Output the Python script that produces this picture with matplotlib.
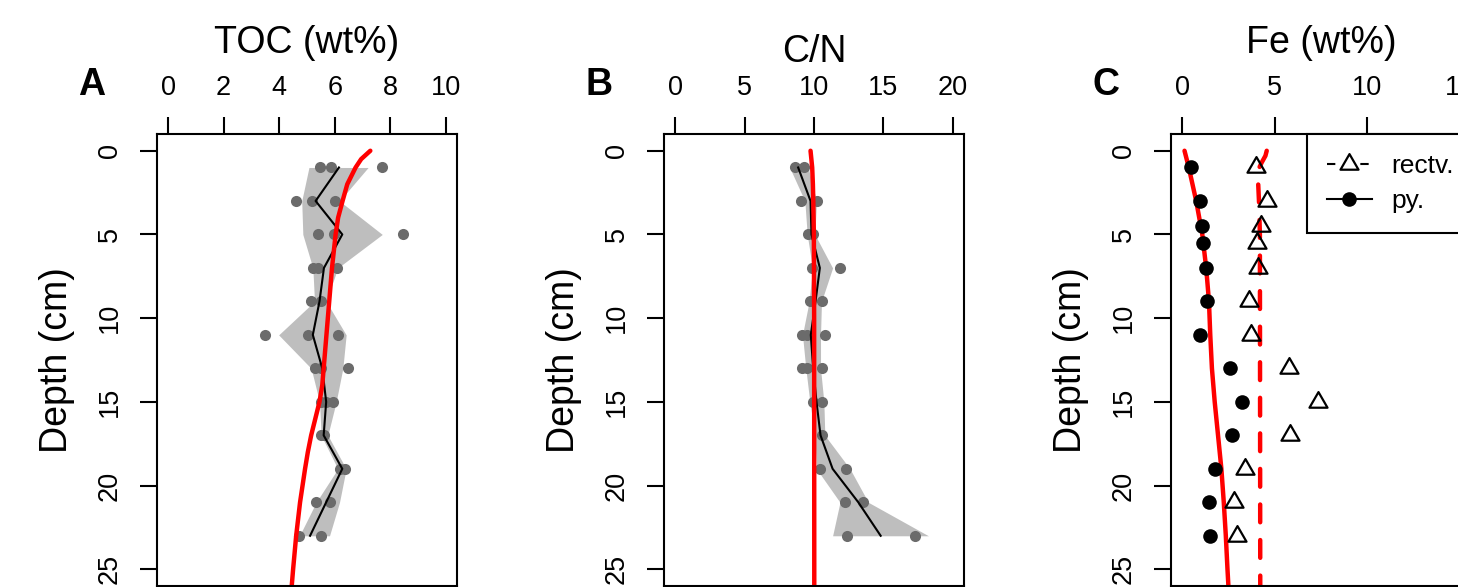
import numpy as np
import matplotlib
matplotlib.use('Agg')
import matplotlib.pyplot as plt
from matplotlib.lines import Line2D
from matplotlib.path import Path

plt.rcParams['font.family'] = ['Liberation Sans', 'DejaVu Sans']

# ---- data ----
depth = [1, 3, 5, 7, 9, 11, 13, 15, 17, 19, 21, 23]

# A: TOC (wt%)
toc_reps = [[5.48, 5.88, 7.71], [4.61, 5.19, 5.99], [5.39, 5.96, 8.44], [5.21, 5.39, 6.08],
            [5.15, 5.51], [3.47, 5.03, 6.11], [5.27, 5.51, 6.47], [5.51, 5.69, 5.93],
            [5.51, 5.60], [6.17, 6.35], [5.31, 5.81], [4.71, 5.51]]
toc_mean = [6.15, 5.31, 6.27, 5.61, 5.45, 5.21, 5.55, 5.69, 5.60, 6.27, 5.69, 5.11]
toc_lo = [5.07, 4.81, 4.85, 5.21, 5.27, 3.98, 5.15, 5.45, 5.51, 6.11, 5.33, 4.73]
toc_hi = [7.20, 6.17, 7.71, 6.11, 5.69, 6.41, 6.29, 6.05, 5.75, 6.41, 6.17, 5.81]
toc_mod_depth = [0, 0.5, 1, 2, 3, 4, 5, 7, 9, 11, 13, 14, 15, 16, 17, 18, 19, 21, 23, 25, 26]
toc_mod = [7.28, 6.95, 6.75, 6.45, 6.28, 6.12, 6.03, 5.90, 5.80, 5.70, 5.60, 5.55, 5.45,
           5.30, 5.15, 5.03, 4.93, 4.75, 4.61, 4.50, 4.45]

# B: C/N
cn_reps = [[8.62, 9.27], [9.03, 10.23], [9.58, 9.94], [9.82, 11.87], [9.70, 10.61],
           [9.10, 9.46, 10.78], [9.10, 9.50, 10.60], [9.94, 10.61], [10.54], [10.42, 12.27],
           [12.23, 13.55], [12.35, 17.28]]
cn_mean = [8.86, 9.75, 9.82, 10.42, 10.11, 9.77, 9.94, 10.18, 10.47, 11.34, 13.19, 14.80]
cn_lo = [8.25, 9.34, 9.51, 9.89, 9.65, 9.17, 9.41, 9.70, 10.06, 10.18, 11.87, 11.34]
cn_hi = [9.58, 10.18, 10.06, 11.34, 10.54, 10.47, 10.47, 10.71, 10.78, 12.59, 13.91, 18.24]
cn_mod_depth = [0, 1, 2, 3, 5, 10, 26]
cn_mod = [9.75, 9.87, 9.92, 9.95, 9.99, 10.01, 10.02]

# C: Fe (wt%)
fe_depth = [1, 3, 4.5, 5.5, 7, 9, 11, 13, 15, 17, 19, 21, 23]
fe_py = [0.49, 0.94, 1.09, 1.12, 1.30, 1.36, 0.94, 2.61, 3.24, 2.72, 1.76, 1.43, 1.52]
fe_rectv = [3.97, 4.60, 4.24, 4.06, 4.11, 3.62, 3.70, 5.78, 7.32, 5.83, 3.42, 2.79, 2.97]
py_mod_depth = [0, 1, 3, 5, 7, 9, 11, 13, 15, 17, 19, 21, 23, 25, 26]
py_mod = [0.13, 0.36, 0.76, 1.09, 1.30, 1.45, 1.52, 1.61, 1.76, 1.94, 2.12, 2.25, 2.36, 2.45, 2.50]
rectv_mod_depth = [0, 0.3, 0.7, 1, 1.5, 2, 3, 5, 26]
rectv_mod = [4.57, 4.50, 4.30, 4.17, 4.10, 4.11, 4.15, 4.20, 4.22]

yticks = [0, 5, 10, 15, 20, 25]

# ---- layout (pixels) ----
W, H = 1458, 587
fig = plt.figure(figsize=(W / 100, H / 100), dpi=100)

GREY = '#6b6b6b'
SHADE = '#bebebe'
RED = '#ff0000'
tri = Path.unit_regular_polygon(3)


def fx(x):
    return x / W


def fy(y):
    return 1 - y / H


def style(ax, xlim, xticks):
    ax.set_xlim(xlim)
    ax.set_ylim(26, -1)
    ax.xaxis.tick_top()
    ax.set_xticks(xticks)
    ax.set_yticks(yticks, [str(t) for t in yticks], rotation=90, va='center')
    ax.tick_params(axis='both', length=12, width=1.5, labelsize=19.5, direction='out')
    ax.tick_params(axis='x', pad=11.5)
    ax.tick_params(axis='y', pad=12.5)
    for s in ax.spines.values():
        s.set_linewidth(1.5)


def flat(reps):
    xs = [v for r in reps for v in r]
    ys = [d for d, r in zip(depth, reps) for v in r]
    return xs, ys


lefts = [157, 664, 1171]
axes = [fig.add_axes([fx(l), 1 / H, fx(300), 452 / H]) for l in lefts]

# A
ax = axes[0]
ax.fill_betweenx(depth, toc_lo, toc_hi, color=SHADE, lw=0)
xs, ys = flat(toc_reps)
ax.plot(xs, ys, 'o', ms=8, color=GREY, mec='none')
ax.plot(toc_mean, depth, color='k', lw=1.5)
ax.plot(toc_mod, toc_mod_depth, color=RED, lw=3.2, solid_capstyle='round')
style(ax, (-0.4, 10.4), [0, 2, 4, 6, 8, 10])

# B
ax = axes[1]
ax.fill_betweenx(depth, cn_lo, cn_hi, color=SHADE, lw=0)
xs, ys = flat(cn_reps)
ax.plot(xs, ys, 'o', ms=8, color=GREY, mec='none')
ax.plot(cn_mean, depth, color='k', lw=1.5)
ax.plot(cn_mod, cn_mod_depth, color=RED, lw=3.2, solid_capstyle='round')
style(ax, (-0.8, 20.8), [0, 5, 10, 15, 20])

# C
ax = axes[2]
ax.plot(py_mod, py_mod_depth, color=RED, lw=3.2, solid_capstyle='round')
ax.plot(rectv_mod, rectv_mod_depth, color=RED, lw=3.2, dashes=(4, 4),
        dash_capstyle='round')
ax.plot(fe_py, fe_depth, 'o', ms=10.5, color='k', mec='none')
ax.plot(fe_rectv, fe_depth, ls='none', marker=tri, ms=15, mfc='none', mec='k', mew=1.6)
style(ax, (-0.6, 15.6), [0, 5, 10, 15])
handles = [Line2D([], [], color='k', lw=1.5, dashes=(4, 4), marker=tri, ms=15,
                  mfc='white', mec='k', mew=1.6),
           Line2D([], [], color='k', lw=1.5, marker='o', ms=10.5, mec='none')]
leg = ax.legend(handles, ['rectv.', 'py.'], loc='upper left',
                bbox_to_anchor=((1306.7 - 1171) / 300, 1.0), borderaxespad=0,
                fontsize=19, frameon=True, fancybox=False, framealpha=1,
                edgecolor='k', borderpad=0.77, handlelength=1.7, handletextpad=0.75,
                labelspacing=0.41)
leg.get_frame().set_linewidth(1.5)

# text
titles = ['TOC (wt%)', 'C/N', 'Fe (wt%)']
title_base = [53.3, 61.7, 53.3]
letters = ['A', 'B', 'C']
for l, t, tb, let in zip(lefts, titles, title_base, letters):
    fig.text(fx(l + 150), fy(tb), t, ha='center', va='baseline', fontsize=27)
    fig.text(fx(l - 65), fy(95), let, ha='center', va='baseline', fontsize=27,
             fontweight='bold')
    fig.text(fx(l - 90), fy(360.5), 'Depth (cm)', rotation=90, rotation_mode='anchor',
             ha='center', va='baseline', fontsize=27)

fig.savefig('out.png', dpi=100)
